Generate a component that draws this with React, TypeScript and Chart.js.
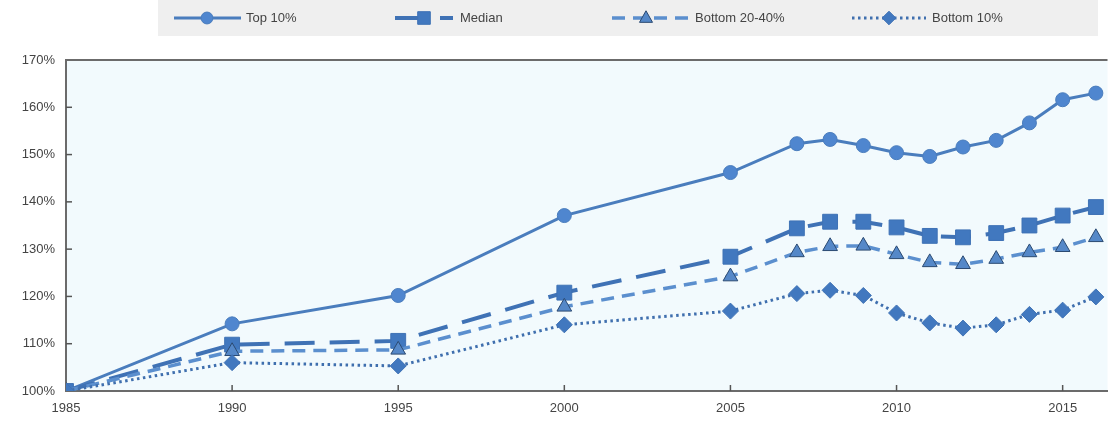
import React, { useEffect, useRef } from "react";
import { Chart, registerables } from "chart.js";

Chart.register(...registerables);

const years = [1985, 1990, 1995, 2000, 2005, 2007, 2008, 2009, 2010, 2011, 2012, 2013, 2014, 2015, 2016];
const top10 = [100, 114.2, 120.2, 137.1, 146.2, 152.3, 153.2, 151.9, 150.4, 149.6, 151.6, 153.0, 156.7, 161.6, 163.0];
const median = [100, 109.8, 110.6, 120.8, 128.4, 134.4, 135.8, 135.8, 134.6, 132.8, 132.5, 133.4, 135.0, 137.1, 138.9];
const bottom2040 = [100, 108.4, 108.7, 117.8, 124.2, 129.3, 130.6, 130.7, 128.9, 127.2, 126.8, 127.9, 129.3, 130.4, 132.5];
const bottom10 = [100, 106.0, 105.3, 114.0, 116.9, 120.6, 121.3, 120.2, 116.5, 114.4, 113.3, 114.0, 116.2, 117.1, 119.9];
const xTickYears = [1985, 1990, 1995, 2000, 2005, 2010, 2015];
const seriesNames = ["Top 10%", "Median", "Bottom 20-40%", "Bottom 10%"];

const FONT = "'Liberation Sans', Arial, sans-serif";

function drawMarker(ctx: CanvasRenderingContext2D, style: string, x: number, y: number, r: number, fill: string, stroke: string) {
  ctx.save();
  ctx.fillStyle = fill;
  ctx.strokeStyle = stroke;
  ctx.lineWidth = 1;
  ctx.setLineDash([]);
  ctx.beginPath();
  if (style === "circle") {
    ctx.arc(x, y, r, 0, Math.PI * 2);
  } else if (style === "rect") {
    const s = r * Math.SQRT1_2;
    ctx.rect(x - s, y - s, 2 * s, 2 * s);
  } else if (style === "triangle") {
    ctx.moveTo(x, y - r);
    ctx.lineTo(x + r * 0.9, y + r * 0.6);
    ctx.lineTo(x - r * 0.9, y + r * 0.6);
    ctx.closePath();
  } else {
    ctx.moveTo(x, y - r);
    ctx.lineTo(x + r, y);
    ctx.lineTo(x, y + r);
    ctx.lineTo(x - r, y);
    ctx.closePath();
  }
  ctx.fill();
  ctx.stroke();
  ctx.restore();
}

export default function App() {
  const ref = useRef<HTMLCanvasElement>(null);

  useEffect(() => {
    if (!ref.current) return;

    const styles = [
      { line: "#4a7dbd", fill: "#4f86cf", stroke: "#4a7dbd", dash: [] as number[], width: 3, point: "circle", r: 7 },
      { line: "#3f72b5", fill: "#4178bf", stroke: "#3f72b5", dash: [30, 15], width: 4, point: "rect", r: 10.5 },
      { line: "#5b8fce", fill: "#5588c8", stroke: "#2b4a72", dash: [13, 8], width: 3.5, point: "triangle", r: 8.5 },
      { line: "#3f6fae", fill: "#4178bf", stroke: "#3f72b5", dash: [2.5, 3.5], width: 3, point: "rectRot", r: 8 },
    ];
    const values = [top10, median, bottom2040, bottom10];

    const decor = {
      id: "decor",
      beforeDraw(chart: any) {
        const { ctx, chartArea } = chart;
        ctx.save();
        ctx.fillStyle = "#f2fafd";
        ctx.fillRect(chartArea.left, chartArea.top, chartArea.right - chartArea.left, chartArea.bottom - chartArea.top);
        ctx.fillStyle = "#efefef";
        ctx.fillRect(158, 0, 940, 36);
        ctx.restore();
      },
      afterDatasetsDraw(chart: any) {
        const { ctx, chartArea, scales } = chart;
        ctx.save();
        ctx.strokeStyle = "#6b6b6b";
        ctx.lineWidth = 2;
        ctx.beginPath();
        ctx.moveTo(chartArea.left, chartArea.top);
        ctx.lineTo(chartArea.right, chartArea.top);
        ctx.stroke();
        ctx.lineWidth = 1.5;
        ctx.strokeStyle = "#555";
        scales.y.ticks.forEach((t: any) => {
          const py = scales.y.getPixelForValue(t.value);
          if (t.value <= scales.y.min || t.value >= scales.y.max) return;
          ctx.beginPath();
          ctx.moveTo(chartArea.left, py);
          ctx.lineTo(chartArea.left + 6, py);
          ctx.stroke();
        });
        scales.x.ticks.forEach((t: any) => {
          if (t.value <= scales.x.min) return;
          const px = scales.x.getPixelForValue(t.value);
          ctx.beginPath();
          ctx.moveTo(px, chartArea.bottom);
          ctx.lineTo(px, chartArea.bottom - 6);
          ctx.stroke();
        });
        ctx.restore();
      },
      afterDraw(chart: any) {
        const { ctx } = chart;
        const items = [
          { x0: 174, x1: 241, m: 207, tx: 246 },
          { x0: 395, x1: 453, m: 424, tx: 460 },
          { x0: 612, x1: 688, m: 646, tx: 695 },
          { x0: 852, x1: 926, m: 889, tx: 932 },
        ];
        const cy = 18;
        items.forEach((it, i) => {
          const s = styles[i];
          ctx.save();
          ctx.strokeStyle = s.line;
          ctx.lineWidth = s.width;
          ctx.setLineDash(s.dash);
          ctx.beginPath();
          ctx.moveTo(it.x0, cy);
          ctx.lineTo(it.x1, cy);
          ctx.stroke();
          ctx.restore();
          drawMarker(ctx, s.point, it.m, cy, s.r * 0.85, s.fill, s.stroke);
          ctx.save();
          ctx.fillStyle = "#444";
          ctx.font = `13px ${FONT}`;
          ctx.textBaseline = "middle";
          ctx.textAlign = "left";
          ctx.fillText(seriesNames[i], it.tx, cy);
          ctx.restore();
        });
      },
    };

    const chart = new Chart(ref.current, {
      type: "line",
      data: {
        datasets: values.map((vals, i) => ({
          label: seriesNames[i],
          data: years.map((y, k) => ({ x: y, y: vals[k] })),
          borderColor: styles[i].line,
          borderWidth: styles[i].width,
          borderDash: styles[i].dash,
          backgroundColor: styles[i].fill,
          pointBackgroundColor: styles[i].fill,
          pointBorderColor: styles[i].stroke,
          pointBorderWidth: 1,
          pointStyle: styles[i].point as any,
          pointRadius: styles[i].r,
          fill: false,
          tension: 0,
          order: 4 - i,
        })),
      },
      options: {
        animation: false,
        responsive: true,
        maintainAspectRatio: false,
        layout: { padding: { top: 60, right: 11, left: 0, bottom: 0 } },
        plugins: { legend: { display: false }, tooltip: { enabled: false } },
        scales: {
          x: {
            type: "linear",
            min: 1985,
            max: 2016.35,
            afterBuildTicks(scale: any) {
              scale.ticks = xTickYears.map((v) => ({ value: v }));
            },
            afterFit(scale: any) {
              scale.height = 31;
            },
            grid: { display: false, drawTicks: false },
            border: { display: true, color: "#6b6b6b", width: 2 },
            ticks: {
              padding: 10,
              color: "#444",
              font: { family: FONT, size: 13 },
              maxRotation: 0,
              autoSkip: false,
              callback: (v: any) => String(v),
            },
          },
          y: {
            min: 100,
            max: 170,
            afterFit(scale: any) {
              scale.width = 66;
            },
            grid: { display: false, drawTicks: false },
            border: { display: true, color: "#6b6b6b", width: 2 },
            ticks: {
              stepSize: 10,
              padding: 11,
              color: "#444",
              font: { family: FONT, size: 13 },
              callback: (v: any) => `${v}%`,
            },
          },
        },
      },
      plugins: [decor],
    });
    return () => chart.destroy();
  }, []);

  return (
    <div style={{ position: "fixed", left: 0, top: 0, width: 1119, height: 422, background: "#fff" }}>
      <canvas ref={ref} />
    </div>
  );
}
